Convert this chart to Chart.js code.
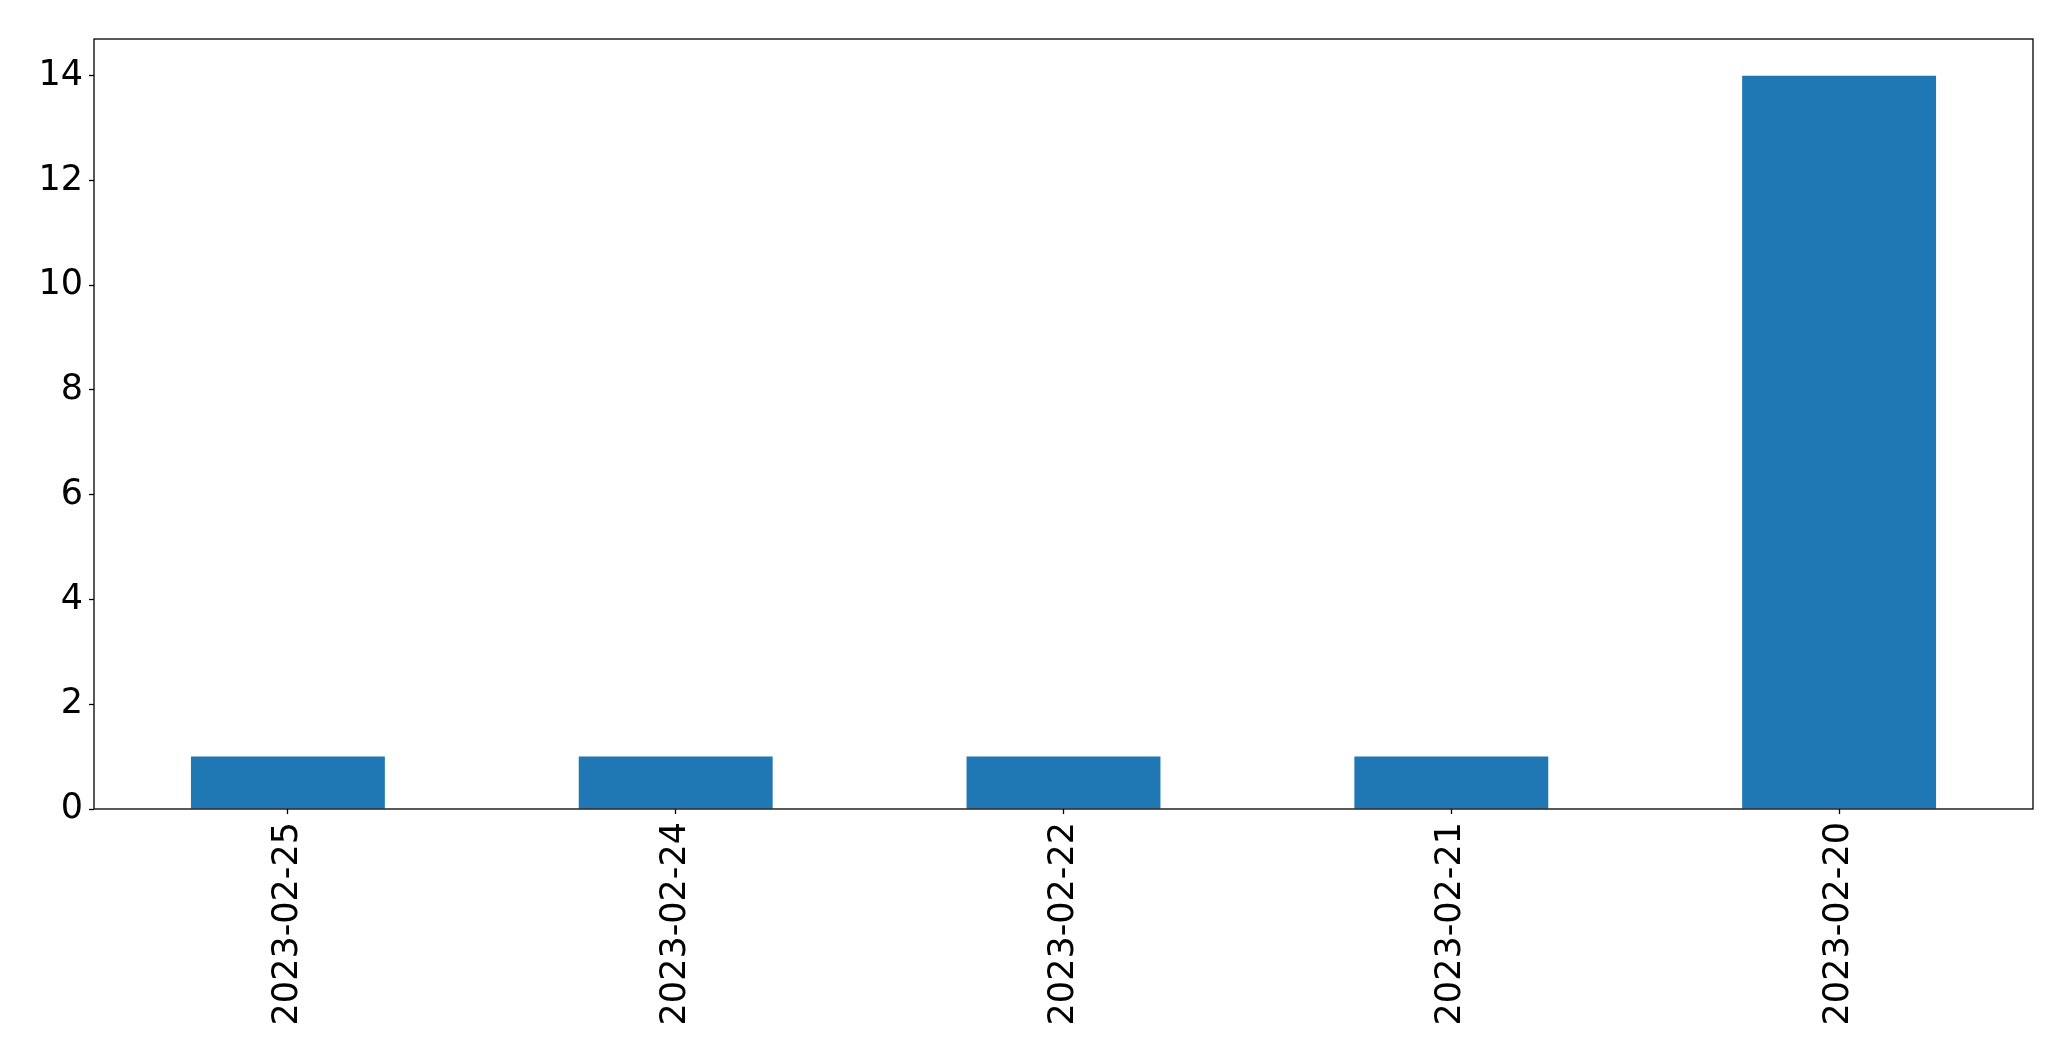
<!DOCTYPE html>
<html>
<head>
<meta charset="utf-8">
<script src="https://cdn.jsdelivr.net/npm/chart.js@4"></script>
<style>
html,body{margin:0;padding:0;background:#fff;overflow:hidden;}
canvas{display:block;}
</style>
</head>
<body>
<canvas id="c" width="2071" height="1061"></canvas>
<script>
const categories = ["2023-02-25", "2023-02-24", "2023-02-22", "2023-02-21", "2023-02-20"];
const counts = [1, 1, 1, 1, 14];
const yTickValues = [0, 2, 4, 6, 8, 10, 12, 14];
const yMax = 14.7;

const FONT = {family: "'DejaVu Sans'", size: 35};

const framePlugin = {
  id: 'frame',
  afterDraw(chart) {
    const a = chart.chartArea, ctx = chart.ctx;
    ctx.save();
    ctx.strokeStyle = '#000';
    ctx.lineWidth = 1.3;
    ctx.strokeRect(a.left, a.top, a.right - a.left, a.bottom - a.top);
    ctx.restore();
  }
};

new Chart(document.getElementById('c'), {
  type: 'bar',
  data: {
    labels: categories,
    datasets: [{
      data: counts,
      backgroundColor: '#1f77b4',
      borderWidth: 0,
      categoryPercentage: 1.0,
      barPercentage: 0.5
    }]
  },
  options: {
    responsive: false,
    devicePixelRatio: 1,
    animation: false,
    plugins: {legend: {display: false}, tooltip: {enabled: false}},
    layout: {padding: {left: 0, top: 39, right: 38, bottom: 0}},
    scales: {
      x: {
        offset: true,
        grid: {display: true, drawOnChartArea: false, offset: false, tickLength: 5, tickColor: '#000', tickWidth: 1.3},
        border: {display: false},
        ticks: {color: '#000', font: FONT, minRotation: 90, maxRotation: 90, autoSkip: false, padding: 8},
        afterFit(scale) { scale.height = 1061 - 809; }
      },
      y: {
        min: 0,
        max: yMax,
        grid: {display: true, drawOnChartArea: false, tickLength: 5, tickColor: '#000', tickWidth: 1.3},
        border: {display: false},
        ticks: {color: '#000', font: FONT, padding: 6},
        afterBuildTicks(scale) { scale.ticks = yTickValues.map(v => ({value: v})); },
        afterFit(scale) { scale.width = 94; }
      }
    }
  },
  plugins: [framePlugin]
});
</script>
</body>
</html>
